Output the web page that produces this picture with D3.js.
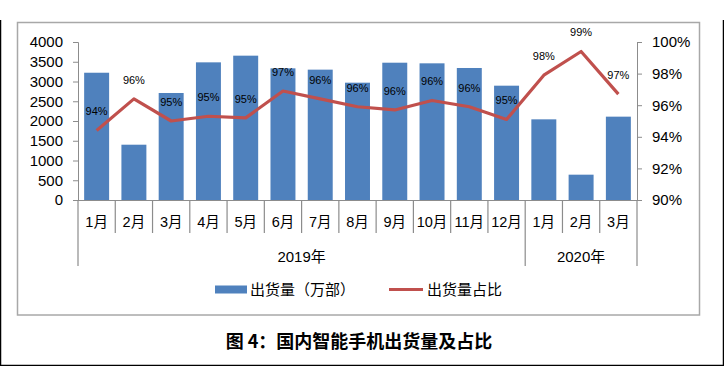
<!DOCTYPE html>
<html>
<head>
<meta charset="utf-8">
<script src="https://cdn.jsdelivr.net/npm/d3@7"></script>
<style>
  html, body { margin: 0; padding: 0; background: #fff; }
  svg text { font-family: "Liberation Sans", "Noto Sans CJK SC", sans-serif; fill: #000; }
</style>
</head>
<body>
<div id="chart"></div>
<script>
// monthly categories, grouped by year
const months = ['1月', '2月', '3月', '4月', '5月', '6月', '7月', '8月', '9月', '10月', '11月', '12月', '1月', '2月', '3月'];
const yearLabels = ['2019年', '2020年'];
const yearSpans = [12, 3];

// 出货量（万部）
const shipments = [3222, 1400, 2709, 3485, 3654, 3333, 3300, 2970, 3476, 3460, 3342, 2894, 2042, 641, 2110];
// 出货量占比 (%)
const share = [94.4, 96.4, 95.0, 95.3, 95.2, 96.9, 96.4, 95.9, 95.7, 96.3, 95.9, 95.1, 97.9, 99.4, 96.7];

const leftTicks = [0, 500, 1000, 1500, 2000, 2500, 3000, 3500, 4000];
const rightTicks = [90, 92, 94, 96, 98, 100];

const width = 724, height = 366;
const plotLeft = 78, plotRight = 637, plotTop = 42, plotBottom = 200;
const barColor = '#4f81bd', lineColor = '#c0504d', axisColor = '#8c8c8c';

const svg = d3.select('#chart')
  .append('svg')
  .attr('width', width)
  .attr('height', height);

// outer frame (left, right, bottom)
svg.append('path')
  .attr('d', `M0.5,20 V365.5 H723.5 V20`)
  .attr('fill', 'none')
  .attr('stroke', '#000')
  .attr('stroke-width', 1.5);

// chart area box
svg.append('rect')
  .attr('x', 17.5).attr('y', 22.5)
  .attr('width', 682).attr('height', 292.5)
  .attr('fill', '#fff')
  .attr('stroke', '#a8a8a8')
  .attr('stroke-width', 1.5);

const keys = months.map((m, i) => i);

const x = d3.scaleBand()
  .domain(keys)
  .range([plotLeft, plotRight])
  .paddingInner(0.33)
  .paddingOuter(0.165);

const step = x.step();

const y = d3.scaleLinear().domain([0, 4000]).range([plotBottom, plotTop]);
const y2 = d3.scaleLinear().domain([90, 100]).range([plotBottom, plotTop]);

// bars
svg.append('g')
  .selectAll('rect')
  .data(shipments)
  .enter()
  .append('rect')
  .attr('x', (d, i) => x(i))
  .attr('y', d => y(d))
  .attr('width', x.bandwidth())
  .attr('height', d => plotBottom - y(d))
  .attr('fill', barColor);

// left axis
const yAxis = d3.axisLeft(y).tickValues(leftTicks).tickSize(5).tickPadding(10).tickFormat(d3.format('d'));
const gy = svg.append('g')
  .attr('transform', `translate(${plotLeft},0)`)
  .call(yAxis);
gy.select('.domain').attr('stroke', axisColor);
gy.selectAll('.tick line').attr('stroke', axisColor);
gy.selectAll('text').style('font-size', '15px').attr('fill', '#000');

// right axis
const y2Axis = d3.axisRight(y2).tickValues(rightTicks).tickSize(5).tickPadding(10).tickFormat(d => d + '%');
const gy2 = svg.append('g')
  .attr('transform', `translate(${plotRight},0)`)
  .call(y2Axis);
gy2.select('.domain').attr('stroke', axisColor);
gy2.selectAll('.tick line').attr('stroke', axisColor);
gy2.selectAll('text').style('font-size', '15px').attr('fill', '#000');

// category axis line
svg.append('line')
  .attr('x1', plotLeft - 5).attr('x2', plotRight + 5)
  .attr('y1', plotBottom + 0.5).attr('y2', plotBottom + 0.5)
  .attr('stroke', axisColor);

// month separators; year boundaries run longer
const yearBounds = [0];
yearSpans.forEach(s => yearBounds.push(yearBounds[yearBounds.length - 1] + s));

svg.append('g')
  .selectAll('line')
  .data(d3.range(months.length + 1))
  .enter()
  .append('line')
  .attr('x1', i => plotLeft + i * step)
  .attr('x2', i => plotLeft + i * step)
  .attr('y1', plotBottom)
  .attr('y2', i => yearBounds.includes(i) ? 266 : 233)
  .attr('stroke', axisColor)
  .attr('stroke-width', 1.2);

// month labels
svg.append('g')
  .selectAll('text')
  .data(months)
  .enter()
  .append('text')
  .attr('x', (d, i) => x(i) + x.bandwidth() / 2)
  .attr('y', 222)
  .attr('text-anchor', 'middle')
  .attr('dominant-baseline', 'central')
  .style('font-size', '14.5px')
  .text(d => d);

// year labels
svg.append('g')
  .selectAll('text')
  .data(yearLabels)
  .enter()
  .append('text')
  .attr('x', (d, i) => plotLeft + (yearBounds[i] + yearBounds[i + 1]) / 2 * step)
  .attr('y', 256)
  .attr('text-anchor', 'middle')
  .attr('dominant-baseline', 'central')
  .style('font-size', '15px')
  .text(d => d);

// share line
const line = d3.line()
  .x((d, i) => x(i) + x.bandwidth() / 2)
  .y(d => y2(d));

svg.append('path')
  .datum(share)
  .attr('d', line)
  .attr('fill', 'none')
  .attr('stroke', lineColor)
  .attr('stroke-width', 3.2)
  .attr('stroke-linejoin', 'round');

// share labels
svg.append('g')
  .selectAll('text')
  .data(share)
  .enter()
  .append('text')
  .attr('x', (d, i) => x(i) + x.bandwidth() / 2)
  .attr('y', d => y2(d) - 19)
  .attr('text-anchor', 'middle')
  .attr('dominant-baseline', 'central')
  .style('font-size', '11px')
  .text(d => Math.round(d) + '%');

// legend
const legend = svg.append('g');
legend.append('rect')
  .attr('x', 215).attr('y', 285.5)
  .attr('width', 32).attr('height', 8)
  .attr('fill', barColor);
legend.append('text')
  .attr('x', 250).attr('y', 289.5)
  .attr('dominant-baseline', 'central')
  .style('font-size', '15px')
  .text('出货量（万部）');
legend.append('line')
  .attr('x1', 389).attr('x2', 423)
  .attr('y1', 289.5).attr('y2', 289.5)
  .attr('stroke', lineColor)
  .attr('stroke-width', 3.2);
legend.append('text')
  .attr('x', 427).attr('y', 289.5)
  .attr('dominant-baseline', 'central')
  .style('font-size', '15px')
  .text('出货量占比');

// title
svg.append('text')
  .attr('x', 359).attr('y', 340)
  .attr('text-anchor', 'middle')
  .attr('dominant-baseline', 'central')
  .style('font-family', '"Noto Sans CJK SC", sans-serif')
  .style('font-size', '18px')
  .style('font-weight', 'bold')
  .text('图 4：国内智能手机出货量及占比');
</script>
</body>
</html>
